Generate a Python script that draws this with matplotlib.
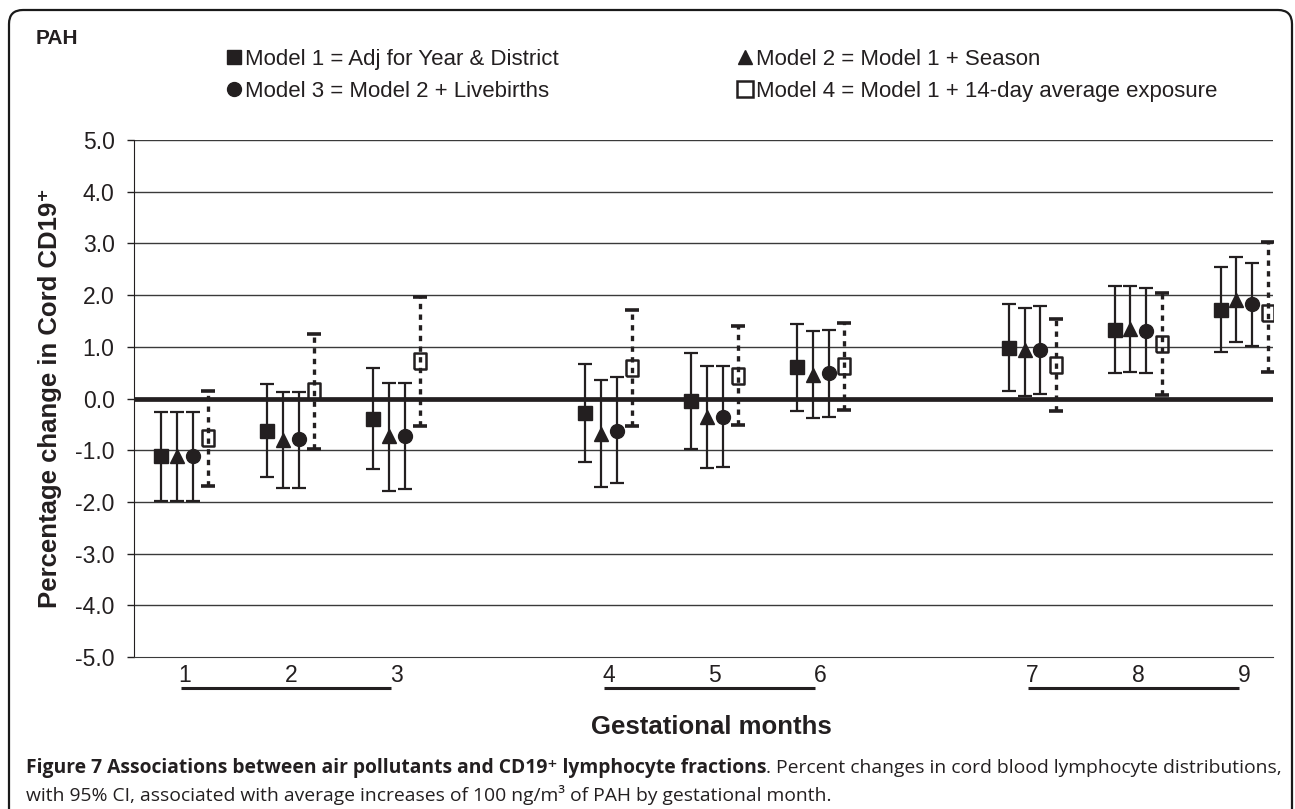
"""
PAH vs cord CD19+ fractions by gestational month, four adjustment models.
"""

import numpy as np
import matplotlib
matplotlib.use("Agg")
import matplotlib.pyplot as plt
from matplotlib.lines import Line2D
from matplotlib.patches import FancyBboxPatch

# ── Data (percent change, 95% CI) ─────────────────────────────
months = ["1", "2", "3", "4", "5", "6", "7", "8", "9"]
slots = [0, 1, 2, 4, 5, 6, 8, 9, 10]          # category slot of each month

m1_est = [-1.12, -0.62, -0.39, -0.28, -0.04, 0.61, 0.98, 1.33, 1.72]
m1_lo  = [-1.99, -1.51, -1.36, -1.23, -0.97, -0.25, 0.14, 0.50, 0.90]
m1_hi  = [-0.26, 0.28, 0.59, 0.67, 0.88, 1.44, 1.82, 2.17, 2.55]

m2_est = [-1.12, -0.80, -0.73, -0.68, -0.36, 0.46, 0.93, 1.35, 1.91]
m2_lo  = [-1.99, -1.73, -1.78, -1.71, -1.34, -0.38, 0.05, 0.52, 1.10]
m2_hi  = [-0.26, 0.12, 0.30, 0.36, 0.62, 1.30, 1.75, 2.18, 2.74]

m3_est = [-1.11, -0.79, -0.72, -0.62, -0.35, 0.49, 0.94, 1.31, 1.83]
m3_lo  = [-1.99, -1.73, -1.75, -1.64, -1.33, -0.36, 0.08, 0.49, 1.02]
m3_hi  = [-0.26, 0.12, 0.30, 0.41, 0.63, 1.33, 1.79, 2.13, 2.62]

m4_est = [-0.77, 0.15, 0.72, 0.59, 0.44, 0.62, 0.64, 1.06, 1.66]
m4_lo  = [-1.70, -0.97, -0.54, -0.54, -0.52, -0.22, -0.25, 0.07, 0.51]
m4_hi  = [0.15, 1.25, 1.96, 1.72, 1.41, 1.46, 1.54, 2.04, 3.02]

labels = ["Model 1 = Adj for Year & District",
          "Model 2 = Model 1 + Season",
          "Model 3 = Model 2 + Livebirths",
          "Model 4 = Model 1 + 14-day average exposure"]

month_groups = [(0, 2), (3, 5), (6, 8)]       # indices into months

# ── Figure ────────────────────────────────────────────────────
plt.rcParams["font.family"] = ["Liberation Sans", "DejaVu Sans"]
W, H = 1295, 809
fig = plt.figure(figsize=(W / 100, H / 100), dpi=100)
ax = fig.add_axes([134 / W, 1 - 657 / H, (1273 - 134) / W, (657 - 140) / H])

x = np.array(slots, dtype=float)
ink = "#231f20"

series = [
    (m1_est, m1_lo, m1_hi, -0.225, dict(marker="s", markersize=9.5, mfc=ink)),
    (m2_est, m2_lo, m2_hi, -0.075, dict(marker="^", markersize=10.5, mfc=ink)),
    (m3_est, m3_lo, m3_hi, 0.075, dict(marker="o", markersize=10, mfc=ink)),
]
for est, lo, hi, off, mk in series:
    est = np.array(est)
    yerr = [est - np.array(lo), np.array(hi) - est]
    ax.errorbar(x + off, est, yerr=yerr, fmt="none", ecolor=ink, elinewidth=1.6,
                capsize=5, capthick=1.6, zorder=4)
    ax.plot(x + off, est, linestyle="none", color=ink, mec=ink, zorder=5, **mk)

# Model 4: dotted CI, open (tall) square marker
est4 = np.array(m4_est)
eb = ax.errorbar(x + 0.22, est4, yerr=[est4 - np.array(m4_lo), np.array(m4_hi) - est4],
                 fmt="none", ecolor=ink, elinewidth=2.4, capsize=5, capthick=2.6, zorder=4)
eb[2][0].set_linestyle((0, (1.6, 1.6)))
tall_box = [(-0.75, -1), (0.75, -1), (0.75, 1), (-0.75, 1), (-0.75, -1)]
ax.plot(x + 0.22, est4, linestyle="none", marker=tall_box, markersize=11.5,
        mfc="none", mec=ink, mew=1.8, zorder=5)

# ── Axes styling ──────────────────────────────────────────────
ax.set_xlim(-0.48, 10.27)
ax.set_ylim(-5, 5)
ax.set_yticks(np.arange(-5, 6, 1))
ax.set_yticklabels([f"{v:.1f}" for v in np.arange(-5, 6, 1)], fontsize=16.5, color=ink)
for v in np.arange(-4, 6, 1):
    if v != 0:
        ax.axhline(v, color="#3a3a3a", linewidth=1.0, zorder=1)
ax.axhline(0, color=ink, linewidth=3.4, zorder=3)
for side in ["top", "right"]:
    ax.spines[side].set_visible(False)
ax.spines["left"].set_color(ink)
ax.spines["bottom"].set_color("#3a3a3a")
ax.tick_params(axis="y", length=5, width=1, pad=9, color=ink)

ax.set_xticks(x)
ax.set_xticklabels(months, fontsize=16.5, color=ink)
ax.tick_params(axis="x", length=0, pad=5)

# underline each trimester of month labels
for a, b in month_groups:
    ax.plot([x[a] - 0.04, x[b] - 0.05], [-0.060, -0.060], color=ink, linewidth=2.2,
            transform=ax.get_xaxis_transform(), clip_on=False, solid_capstyle="butt")

ax.set_ylabel("Percentage change in Cord CD19⁺", fontsize=18.5, fontweight="bold", color=ink)
ax.yaxis.set_label_coords(-0.063, 0.5)
ax.set_xlabel("Gestational months", fontsize=18.5, fontweight="bold", color=ink)
ax.xaxis.set_label_coords(0.507, -0.112)

# ── Legend ────────────────────────────────────────────────────
handles = [
    Line2D([], [], linestyle="none", marker="s", markersize=10, color=ink),
    Line2D([], [], linestyle="none", marker="^", markersize=10.5, color=ink),
    Line2D([], [], linestyle="none", marker="o", markersize=10, color=ink),
    Line2D([], [], linestyle="none", marker="s", markersize=11, mfc="none", mec=ink, mew=1.8),
]
order = [0, 2, 1, 3]
fig.legend([handles[i] for i in order], [labels[i] for i in order], ncol=2,
           loc="upper left", bbox_to_anchor=(216 / W, 1 - 38 / H), frameon=False,
           borderpad=0, fontsize=16, handlelength=0.6, handletextpad=0.2,
           columnspacing=8.07, labelspacing=0.5, labelcolor=ink)

fig.text(36 / W, 1 - 39 / H, "PAH", fontsize=15, fontweight="bold", color=ink,
         va="center", ha="left")

# ── Frame and caption ─────────────────────────────────────────
frame = FancyBboxPatch((9, -40), 1283, H - 10 + 40, boxstyle="round,pad=0,rounding_size=14",
                       transform=None, fill=False, edgecolor="#1a1a1a", linewidth=1.6)
fig.add_artist(frame)

cap_fam = ["Open Sans", "DejaVu Sans"]
t1 = fig.text(26 / W, 1 - 768 / H,
              "Figure 7 Associations between air pollutants and CD19⁺ lymphocyte fractions",
              fontsize=13.9, fontweight="bold", family=cap_fam, color=ink, va="center")
fig.canvas.draw()
bb = t1.get_window_extent(renderer=fig.canvas.get_renderer())
fig.text(bb.x1 / W, 1 - 768 / H,
         ". Percent changes in cord blood lymphocyte distributions,",
         fontsize=13.9, family=cap_fam, color=ink, va="center")
fig.text(26 / W, 1 - 795 / H,
         "with 95% CI, associated with average increases of 100 ng/m³ of PAH by gestational month.",
         fontsize=13.9, family=cap_fam, color=ink, va="center")

plt.savefig("out.png", dpi=100)
